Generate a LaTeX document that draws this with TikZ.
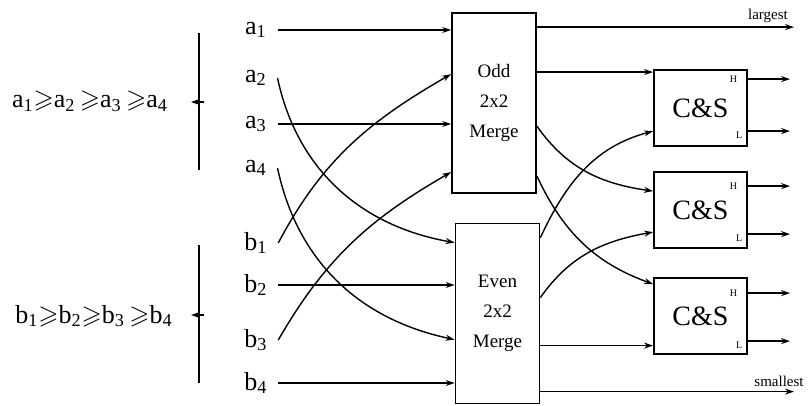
\documentclass[tikz,border=0pt]{standalone}
\usepackage{amssymb}
\usepackage{fontspec}
\setmainfont{Liberation Serif}
\usetikzlibrary{positioning,arrows.meta,calc}

\begin{document}
\begin{tikzpicture}[
  x=0.5pt,y=-0.5pt,
  line width=0.7pt,
  wire/.style={-{Stealth[length=4.5pt,width=3pt]}},
  inlbl/.style={inner sep=0pt,font=\fontsize{13}{13}\selectfont},
  merger/.style={draw,line width=0.9pt,minimum width=42pt,minimum height=90pt,
    align=center,font=\fontsize{9.5}{15}\selectfont},
  cands/.style={draw,line width=0.9pt,minimum width=46.5pt,minimum height=38pt,
    font=\fontsize{14}{14}\selectfont},
  port/.style={inner sep=0pt,font=\fontsize{5}{5}\selectfont},
  side/.style={inner sep=0pt,font=\fontsize{7.5}{7.5}\selectfont}
]
\useasboundingbox (0,0) rectangle (809,406);

% sorted inputs
\node[inlbl] (achain) at (90,101) {a\textsubscript{1}$\geqslant$a\textsubscript{2}\,$\geqslant$a\textsubscript{3}\,$\geqslant$a\textsubscript{4}};
\node[inlbl] (bchain) at (94,316) {b\textsubscript{1}$\geqslant$b\textsubscript{2}$\geqslant$b\textsubscript{3}\,$\geqslant$b\textsubscript{4}};
\draw[line width=0.9pt] (199,33) -- (199,170);
\draw[line width=0.9pt] (199,245) -- (199,383);
\coordinate (atick) at (204,102);
\coordinate (btick) at (204,315);
\draw[wire] (atick) -- ++(-13,0);
\draw[wire] (btick) -- ++(-13,0);

\node[inlbl] (a1) at (256,30) {a\textsubscript{1}};
\node[inlbl] (a2) at (256,78) {a\textsubscript{2}};
\node[inlbl] (a3) at (256,124) {a\textsubscript{3}};
\node[inlbl] (a4) at (256,168) {a\textsubscript{4}};
\node[inlbl] (b1) at (256,243) {b\textsubscript{1}};
\node[inlbl] (b2) at (256,285) {b\textsubscript{2}};
\node[inlbl] (b3) at (256,340) {b\textsubscript{3}};
\node[inlbl] (b4) at (256,383) {b\textsubscript{4}};

% merge blocks
\node[merger] (odd) at (494,103) {Odd\\2x2\\Merge};
\node[merger] (even) at (497.5,313.5) {Even\\2x2\\Merge};

\node[cands] (cs1) at (700.5,108) {C\&S};
\node[cands] (cs2) at (700.5,210) {C\&S};
\node[cands] (cs3) at (700.5,316) {C\&S};

% ports
\coordinate (odd-in2) at ($(odd.north west)+(0,62)$);
\coordinate (odd-in4) at ($(odd.north west)+(0,160)$);
\coordinate (even-in1) at ($(even.north west)+(0,20)$);
\coordinate (even-in3) at ($(even.north west)+(0,117)$);
\coordinate (odd-out1) at ($(odd.north east)+(0,15)$);
\coordinate (odd-out2) at ($(odd.north east)+(0,60)$);
\coordinate (odd-out3) at ($(odd.north east)+(0,114)$);
\coordinate (odd-out4) at ($(odd.north east)+(0,164)$);
\coordinate (even-out1) at ($(even.north east)+(0,15)$);
\coordinate (even-out2) at ($(even.north east)+(0,75)$);
\coordinate (even-out3) at ($(even.north east)+(0,123)$);
\coordinate (even-out4) at ($(even.north east)+(0,169)$);
\coordinate (cs1-in2) at ($(cs1.north west)+(0,62)$);
\coordinate (cs2-in1) at ($(cs2.north west)+(0,20)$);
\coordinate (cs2-in2) at ($(cs2.north west)+(0,61)$);
\coordinate (cs3-in1) at ($(cs3.north west)+(0,7)$);
\coordinate (cs1-h) at ($(cs1.north east)+(0,10)$);
\coordinate (cs1-l) at ($(cs1.north east)+(0,62)$);
\coordinate (cs2-h) at ($(cs2.north east)+(0,15)$);
\coordinate (cs2-l) at ($(cs2.north east)+(0,63)$);
\coordinate (cs3-h) at ($(cs3.north east)+(0,16)$);
\coordinate (cs3-l) at ($(cs3.north east)+(0,64)$);
\coordinate (outend) at (790,0);
\coordinate (bigend) at (794,0);

% inputs to merge blocks
\draw[wire] ([xshift=5pt]a1.east) -- (a1.east -| odd.west);
\draw[wire] ([xshift=5pt]a3.east) -- (a3.east -| odd.west);
\draw[wire] ([xshift=5pt]b2.east) -- (b2.east -| even.west);
\draw[wire] ([xshift=5pt]b4.east) -- (b4.east -| even.west);
\draw[wire] ([xshift=5pt]a2.east) to[out=-78,in=170] (even-in1);
\draw[wire] ([xshift=5pt]a4.east) to[out=-78,in=168] (even-in3);
\draw[wire] ([xshift=5pt]b1.east) to[out=62,in=-150] (odd-in2);
\draw[wire] ([xshift=5pt]b3.east) to[out=60,in=-150] (odd-in4);

% merge outputs
\draw[wire] (odd-out1) -- (odd-out1 -| bigend);
\draw[wire] (even-out4) -- (even-out4 -| bigend);
\node[side] (largest) at (768,16) {largest};
\node[side] (smallest) at (779,381) {smallest};
\draw[wire] (odd-out2) -- (odd-out2 -| cs1.west);
\draw[wire] (even-out3) -- (even-out3 -| cs3.west);
\draw[wire] (odd-out3) to[out=-55,in=172] (cs2-in1);
\draw[wire] (odd-out4) to[out=-65,in=160] (cs3-in1);
\draw[wire] (even-out1) to[out=65,in=-165] (cs1-in2);
\draw[wire] (even-out2) to[out=55,in=-170] (cs2-in2);

% compare and swap outputs
\draw[wire] (cs1-h) -- (cs1-h -| outend);
\draw[wire] (cs1-l) -- (cs1-l -| outend);
\draw[wire] (cs2-h) -- (cs2-h -| outend);
\draw[wire] (cs2-l) -- (cs2-l -| outend);
\draw[wire] (cs3-h) -- (cs3-h -| outend);
\draw[wire] (cs3-l) -- (cs3-l -| outend);
\node[port,anchor=east] at ([xshift=-5pt]cs1-h) {H};
\node[port,anchor=east] at ([xshift=-2.5pt,yshift=-2pt]cs1-l) {L};
\node[port,anchor=east] at ([xshift=-5pt]cs2-h) {H};
\node[port,anchor=east] at ([xshift=-2.5pt,yshift=-2pt]cs2-l) {L};
\node[port,anchor=east] at ([xshift=-5pt]cs3-h) {H};
\node[port,anchor=east] at ([xshift=-2.5pt,yshift=-2pt]cs3-l) {L};
\end{tikzpicture}
\end{document}
